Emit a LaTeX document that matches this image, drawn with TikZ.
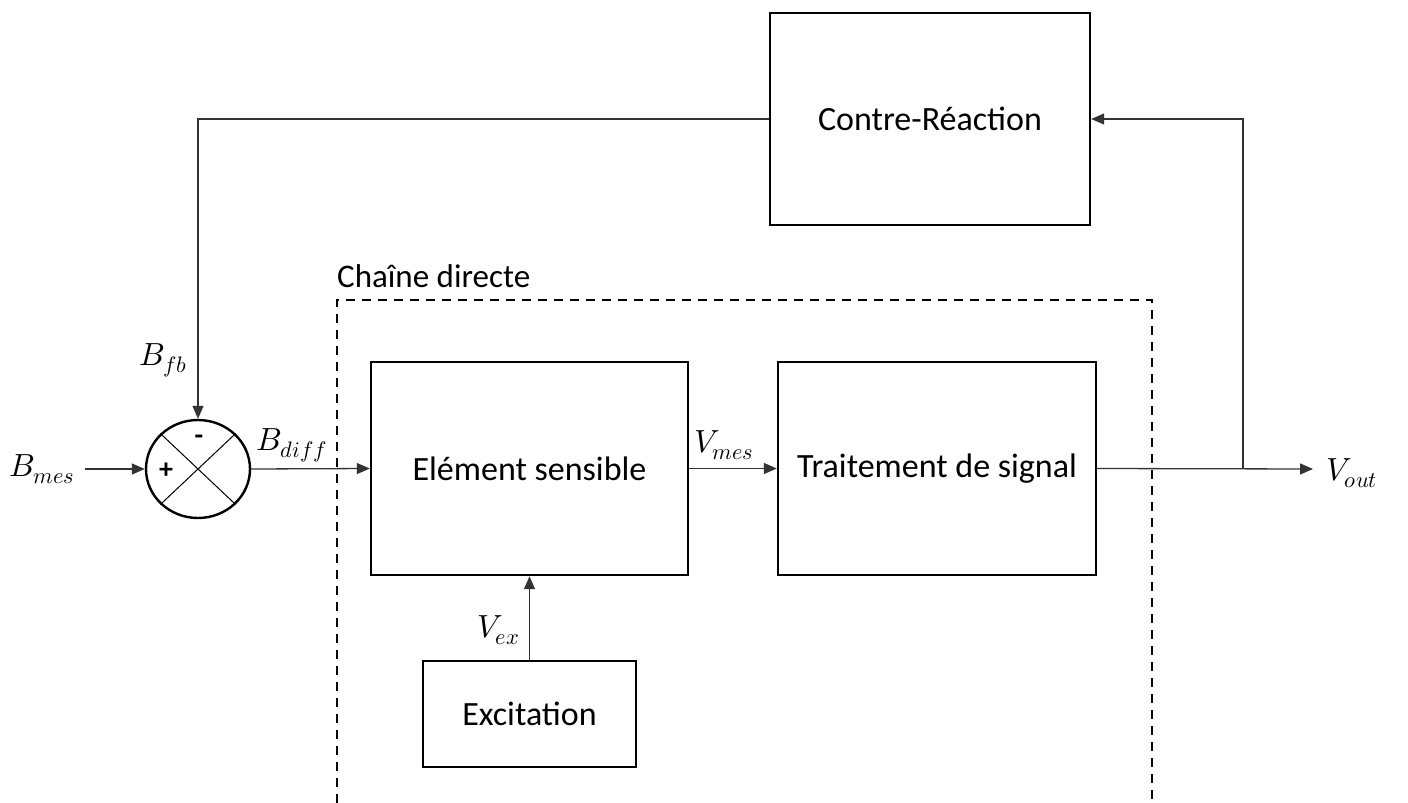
\documentclass[tikz,border=0pt]{standalone}
\usepackage{fontspec}
\usepackage{unicode-math}
\setmainfont{Carlito}
\setmathfont{Latin Modern Math}
\usetikzlibrary{arrows.meta,shapes.geometric}
\begin{document}
\begin{tikzpicture}[x=1pt,y=-1pt,
  blk/.style={draw,line width=2.4pt,inner sep=0pt,font=\fontsize{34}{40}\selectfont},
  conn/.style={line width=1.3pt,draw=black!80},
  arr/.style={conn,-{Triangle[length=13pt,width=11pt]}},
  lbl/.style={inner sep=0pt,font=\fontsize{32}{37}\selectfont},
  sign/.style={inner sep=0pt,font=\fontsize{28}{32}\selectfont\bfseries}]
\useasboundingbox (0,0) rectangle (1408,803);
% blocks
\node[blk,minimum width=320pt,minimum height=212pt] (cr) at (930,119) {Contre-Réaction};
\node[blk,minimum width=317pt,minimum height=213pt] (es) at (529.5,468.5) {Elément sensible};
\node[blk,minimum width=318pt,minimum height=213pt] (ts) at (937,468.5) {Traitement de signal};
\node[blk,minimum width=213pt,minimum height=106pt] (ex) at (529.5,714) {Excitation};
% summing junction
\node[draw,line width=2.4pt,ellipse,minimum width=104pt,minimum height=98pt,inner sep=0pt] (sum) at (198,469) {};
\draw[line width=1pt] (sum.north west) -- (sum.south east);
\draw[line width=1pt] (sum.north east) -- (sum.south west);
\node[sign] (minus) at (199,440) {-};
\node[sign] (plus) at (166,471) {+};
% dashed frame
\coordinate (dbl) at (337,803);
\coordinate (dbr) at (1152,803);
\draw[line width=2.4pt,dash pattern=on 9pt off 7pt] (dbl) |- (1152,300) -- (dbr);
\node[anchor=base west,inner sep=0pt,font=\fontsize{33}{38}\selectfont] (cd) at (337,287) {Chaîne directe};
% input
\coordinate (in) at (85,469);
\draw[arr] (in) -- (sum.west);
\node[lbl,anchor=base west] (bmes) at (9,476) {$B_{mes}$};
% feedback
\draw[arr] (cr.west) -| (sum.north);
\node[lbl,anchor=base west] (bfb) at (139,365) {$B_{fb}$};
% forward
\draw[arr] (sum.east) -- (es.west);
\node[lbl,anchor=base west] (bdiff) at (256,450) {$B_{diff}$};
\draw[arr] (es.east) -- (ts.west);
\node[lbl,anchor=base west] (vmes) at (694,452) {$V_{mes}$};
\draw[arr] (ex.north) -- (es.south);
\node[lbl,anchor=base west] (vex) at (477,637) {$V_{ex}$};
% output
\coordinate (out) at (1313,469);
\coordinate (br) at (1243,469);
\draw[arr] (ts.east) -- (out);
\draw[arr] (br) |- (cr.east);
\node[lbl,anchor=base west] (vout) at (1326,480) {$V_{out}$};
\end{tikzpicture}
\end{document}
